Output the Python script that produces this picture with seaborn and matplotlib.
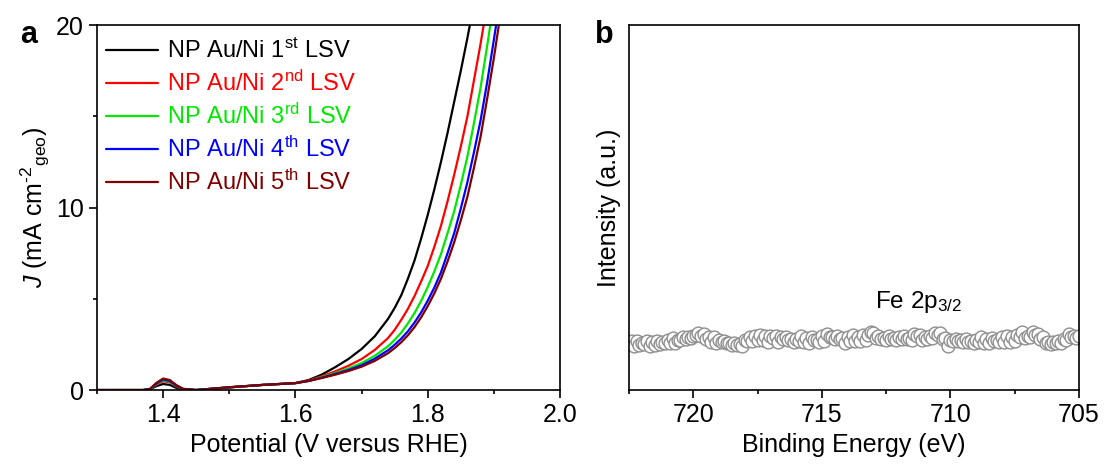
import numpy as np
import pandas as pd
import matplotlib
matplotlib.use("Agg")
import matplotlib.pyplot as plt
from matplotlib.ticker import MultipleLocator
import seaborn as sns

# ---------------- data ----------------
potential = [1.30, 1.37, 1.38, 1.39, 1.40, 1.41, 1.42, 1.43, 1.45, 1.50, 1.55, 1.60, 1.62,
             1.64, 1.66, 1.68, 1.70, 1.72, 1.74, 1.75, 1.76, 1.77, 1.78, 1.79, 1.80, 1.81,
             1.82, 1.83, 1.84, 1.85, 1.86, 1.87, 1.88, 1.89, 1.90, 1.91, 1.92]

lsv1 = [0, 0, 0.04, 0.22, 0.33, 0.28, 0.12, 0.03, 0.0, 0.15, 0.28, 0.38, 0.55,
        0.85, 1.25, 1.70, 2.25, 2.95, 3.9, 4.5, 5.2, 6.1, 7.1, 8.3, 9.6, 11.0,
        12.5, 14.1, 15.8, 17.5, 19.3, 21.2, 23.0, 25.0, 27.0, 29.0, 31.0]
lsv2 = [0, 0, 0.05, 0.30, 0.48, 0.42, 0.20, 0.05, 0.0, 0.15, 0.28, 0.38, 0.52,
        0.76, 1.02, 1.33, 1.70, 2.20, 2.85, 3.3, 3.85, 4.45, 5.15, 5.95, 6.8, 7.85,
        9.0, 10.35, 11.8, 13.35, 15.0, 17.0, 19.0, 21.2, 23.5, 25.8, 28.0]
lsv3 = [0, 0, 0.05, 0.33, 0.53, 0.46, 0.22, 0.05, 0.0, 0.15, 0.28, 0.38, 0.50,
        0.71, 0.93, 1.18, 1.48, 1.88, 2.40, 2.75, 3.15, 3.65, 4.22, 4.88, 5.65, 6.5,
        7.45, 8.6, 9.8, 11.25, 12.8, 14.65, 16.6, 18.9, 21.3, 23.6, 26.0]
lsv4 = [0, 0, 0.06, 0.36, 0.58, 0.50, 0.24, 0.06, 0.0, 0.15, 0.28, 0.38, 0.50,
        0.68, 0.88, 1.10, 1.36, 1.72, 2.18, 2.48, 2.82, 3.22, 3.7, 4.25, 4.9, 5.62,
        6.45, 7.5, 8.6, 9.95, 11.4, 13.05, 14.8, 16.9, 19.2, 21.6, 24.0]
lsv5 = [0, 0, 0.06, 0.40, 0.63, 0.55, 0.27, 0.07, 0.0, 0.15, 0.28, 0.38, 0.50,
        0.66, 0.84, 1.04, 1.28, 1.60, 2.02, 2.30, 2.62, 3.0, 3.45, 3.98, 4.6, 5.3,
        6.1, 7.05, 8.1, 9.3, 10.6, 12.2, 13.9, 16.0, 18.2, 20.6, 23.0]

series_labels = ["NP Au/Ni 1$^{\\rm st}$ LSV", "NP Au/Ni 2$^{\\rm nd}$ LSV",
                 "NP Au/Ni 3$^{\\rm rd}$ LSV", "NP Au/Ni 4$^{\\rm th}$ LSV",
                 "NP Au/Ni 5$^{\\rm th}$ LSV"]
series_colors = ["#000000", "#FF0000", "#00E800", "#0000FF", "#800000"]

# XPS Fe 2p3/2 region (0.1 eV step, 722.4 -> 705.0 eV)
binding_energy = np.round(np.arange(722.4, 704.95, -0.1), 1)
xps_intensity = [
    13.4, 12.2, 13.5, 12.3, 12.9, 12.6, 13.5, 12.1, 13.3, 12.3,
    13.5, 12.7, 13.3, 12.9, 13.8, 13.0, 14.2, 13.0, 13.7, 13.6,
    14.4, 13.9, 14.5, 14.3, 14.9, 15.0, 15.6, 14.9, 15.3, 14.0,
    14.6, 13.2, 14.4, 12.8, 13.6, 13.3, 13.5, 12.8, 12.8, 12.3,
    12.9, 12.3, 12.5, 12.2, 13.8, 13.4, 14.5, 13.5, 14.8, 13.6,
    15.1, 13.6, 14.7, 13.2, 14.8, 14.2, 14.9, 13.2, 14.4, 13.9,
    14.5, 13.8, 13.9, 13.3, 14.1, 13.5, 14.9, 13.1, 14.2, 12.9,
    14.4, 13.7, 13.8, 13.3, 14.9, 13.4, 15.3, 14.4, 14.5, 14.1,
    14.8, 14.1, 14.3, 12.9, 14.6, 13.4, 15.0, 13.4, 14.6, 13.5,
    15.2, 13.8, 15.2, 15.8, 15.7, 14.2, 14.9, 14.0, 14.2, 13.7,
    14.7, 13.9, 14.2, 13.6, 14.5, 14.1, 14.9, 14.1, 14.3, 13.8,
    15.4, 14.8, 15.2, 13.7, 14.6, 14.1, 14.9, 14.2, 15.5, 15.0,
    15.7, 14.0, 14.3, 12.0, 13.7, 13.4, 14.1, 13.4, 13.7, 13.2,
    13.9, 13.2, 13.5, 12.9, 13.6, 13.1, 14.6, 12.9, 14.0, 12.8,
    14.2, 13.4, 13.7, 13.1, 14.6, 13.3, 14.9, 13.3, 14.5, 13.4,
    15.1, 14.5, 15.8, 14.3, 14.9, 14.4, 16.0, 15.2, 15.3, 14.0,
    14.6, 12.9, 13.2, 12.6, 13.3, 12.9, 13.4, 12.8, 14.0, 13.8,
    15.4, 14.5, 14.8, 14.2, 14.9,
]

# ---------------- style ----------------
sns.set_theme(style="ticks")
plt.rcParams["font.family"] = ["Liberation Sans", "DejaVu Sans"]
plt.rcParams["mathtext.fontset"] = "custom"
plt.rcParams["mathtext.rm"] = "Liberation Sans"
plt.rcParams["mathtext.it"] = "Liberation Sans:italic"
plt.rcParams["mathtext.bf"] = "Liberation Sans:bold"
plt.rcParams["axes.linewidth"] = 1.2
plt.rcParams["axes.edgecolor"] = "black"
plt.rcParams["text.color"] = "black"
plt.rcParams["axes.labelcolor"] = "black"
plt.rcParams["xtick.color"] = "black"
plt.rcParams["ytick.color"] = "black"
plt.rcParams["xtick.labelcolor"] = "black"
plt.rcParams["ytick.labelcolor"] = "black"

FS = 18
LFS = 17

fig = plt.figure(figsize=(11.18, 4.66), dpi=100)
ax1 = fig.add_axes([0.0868, 0.163, 0.4141, 0.783])
ax2 = fig.add_axes([0.5626, 0.163, 0.4025, 0.783])

# ---------------- panel a ----------------
frames = []
for lab, vals in zip(series_labels, [lsv1, lsv2, lsv3, lsv4, lsv5]):
    frames.append(pd.DataFrame({"V": potential, "J": vals, "run": lab}))
df = pd.concat(frames, ignore_index=True)

sns.lineplot(data=df, x="V", y="J", hue="run", hue_order=series_labels,
             palette=series_colors, linewidth=1.6, sort=False, ax=ax1)
ax1.set_xlim(1.3, 2.0)
ax1.set_ylim(0, 20)
ax1.xaxis.set_minor_locator(MultipleLocator(0.1))
ax1.yaxis.set_major_locator(MultipleLocator(10))
ax1.yaxis.set_minor_locator(MultipleLocator(5))
ax1.set_xticks([1.4, 1.6, 1.8, 2.0])
ax1.set_xticklabels(["1.4", "1.6", "1.8", "2.0"])
ax1.set_xlabel("Potential (V versus RHE)", fontsize=FS, labelpad=4, color="black")
ax1.set_ylabel("$J$ (mA cm$^{\u2010\\rm 2}$$_{\\rm geo}$)", fontsize=FS, labelpad=3,
               color="black")
leg = ax1.legend(loc="upper left", bbox_to_anchor=(-0.017, 1.008), frameon=False,
                 fontsize=LFS, handlelength=2.2, handletextpad=0.38,
                 labelspacing=0.33, borderaxespad=0.3)
for txt, col in zip(leg.get_texts(), series_colors):
    txt.set_color(col)
for ln in leg.get_lines():
    ln.set_linewidth(1.6)

# ---------------- panel b ----------------
dfx = pd.DataFrame({"E": binding_energy, "I": xps_intensity})
sns.scatterplot(data=dfx, x="E", y="I", marker="o", s=85, facecolor="white",
                edgecolor="#8E8E8E", linewidth=1.0, ax=ax2)
ax2.set_xlim(722.5, 705)
ax2.set_ylim(0, 100)
ax2.xaxis.set_major_locator(MultipleLocator(5))
ax2.xaxis.set_minor_locator(MultipleLocator(2.5))
ax2.set_yticks([])
ax2.set_xlabel("Binding Energy (eV)", fontsize=FS, labelpad=4, color="black")
ax2.set_ylabel("Intensity (a.u.)", fontsize=FS, labelpad=6, color="black")
ax2.text(712.95, 24, "Fe 2p$_{3/2}$", fontsize=LFS + 0.5, ha="left", va="center",
         color="black")

for ax in (ax1, ax2):
    for sp in ax.spines.values():
        sp.set_visible(True)
        sp.set_color("black")
        sp.set_linewidth(1.2)
    ax.tick_params(axis="both", which="major", direction="out", length=5.5,
                   width=1.2, labelsize=FS, color="black", labelcolor="black", pad=4)
    ax.tick_params(axis="both", which="minor", direction="out", length=3,
                   width=1.2, color="black")
ax2.tick_params(axis="y", which="both", length=0)

fig.text(0.018, 0.925, "a", fontsize=22, fontweight="bold", ha="left", va="center",
         color="black")
fig.text(0.532, 0.925, "b", fontsize=22, fontweight="bold", ha="left", va="center",
         color="black")

fig.savefig("out.png", dpi=100)
